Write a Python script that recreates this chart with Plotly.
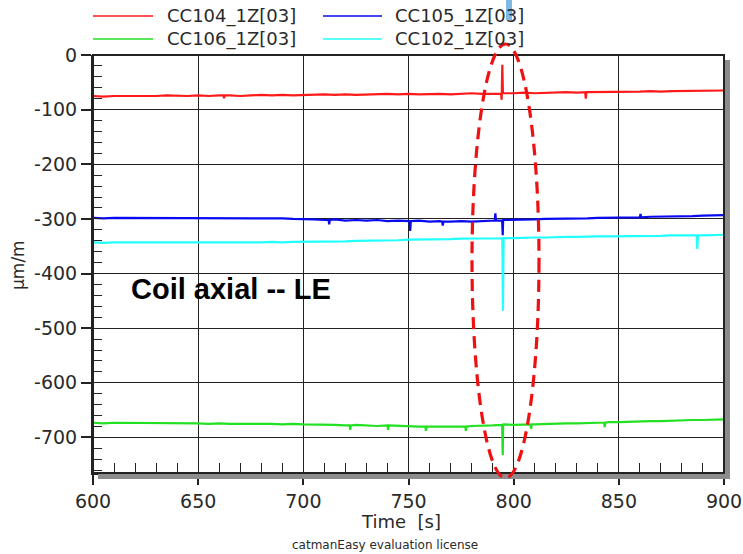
import plotly.graph_objects as go

# ---------------- data ----------------
time_s = list(range(600, 905, 5))

cc104 = [-75, -76, -75, -75, -76, -75, -75, -74, -75, -75, -74, -75, -74, -74, -75, -74, -73, -74, -73, -74,
         -73, -73, -72, -73, -72, -73, -72, -72, -71, -72, -71, -72, -71, -71, -72, -71, -70, -71, -71, -70,
         -70, -69, -70, -69, -69, -68, -69, -68, -68, -67, -68, -67, -67, -66, -67, -66, -66, -65, -66, -65, -65]
cc105 = [-298, -299, -298, -298, -299, -298, -298, -299, -298, -299, -299, -298, -299, -298, -299, -299, -298, -299, -299, -300,
         -300, -301, -302, -301, -303, -302, -303, -302, -304, -303, -304, -303, -305, -304, -305, -304, -305, -304, -303, -302,
         -302, -301, -301, -300, -300, -300, -299, -299, -298, -298, -298, -297, -297, -296, -296, -295, -295, -295, -294, -294, -293]
cc106 = [-673, -674, -673, -673, -674, -673, -674, -674, -673, -674, -674, -675, -674, -675, -675, -674, -675, -675, -676, -675,
         -676, -676, -677, -677, -678, -677, -678, -679, -678, -679, -679, -680, -680, -679, -680, -680, -679, -679, -678, -677,
         -677, -676, -676, -675, -675, -674, -674, -673, -673, -672, -672, -671, -671, -670, -670, -669, -669, -668, -668, -667, -667]
cc102 = [-343, -344, -343, -343, -344, -343, -343, -344, -343, -343, -344, -343, -343, -344, -343, -343, -343, -342, -343, -342,
         -342, -342, -341, -341, -341, -340, -340, -339, -339, -339, -338, -338, -337, -337, -337, -336, -336, -336, -335, -335,
         -335, -334, -334, -334, -333, -333, -333, -332, -332, -332, -332, -331, -331, -331, -331, -330, -330, -330, -330, -329, -329]

# short transients (time, value)
spk_t_104 = [662.0, 662.3, 662.6, 794.0, 794.3, 794.6, 794.9, 834.0, 834.3, 834.6]
spk_v_104 = [-74, -79, -74, -71, -82, -18, -71, -68, -80, -68]
spk_t_105 = [712.0, 712.3, 712.6, 750.5, 750.8, 751.1, 766.0, 766.3, 766.6, 791.0, 791.3, 791.6,
             794.5, 794.8, 795.1, 860.0, 860.3, 860.6]
spk_v_105 = [-302, -310, -302, -304, -322, -304, -305, -312, -305, -303, -290, -303,
             -303, -330, -302, -297, -291, -297]
spk_t_106 = [722.0, 722.3, 722.6, 740.0, 740.3, 740.6, 758.0, 758.3, 758.6, 777.0, 777.3, 777.6,
             794.5, 794.8, 795.1, 808.0, 808.3, 808.6, 843.0, 843.3, 843.6]
spk_v_106 = [-678, -686, -678, -678, -686, -678, -680, -688, -680, -680, -688, -680,
             -677, -732, -676, -676, -684, -676, -673, -681, -673]
spk_t_102 = [794.6, 794.9, 795.2, 887.0, 887.3, 887.6]
spk_v_102 = [-335, -468, -335, -330, -355, -330]

names = ["CC104_1Z[03]", "CC105_1Z[03]", "CC106_1Z[03]", "CC102_1Z[03]"]
colors = ["#ff1a1a", "#0a0af0", "#22e022", "#22ffff"]

x_ticks = [600, 650, 700, 750, 800, 850, 900]
x_tick_text = ["600", "650", "700", "750", "800", "850", "900"]
y_ticks = [0, -100, -200, -300, -400, -500, -600, -700]
y_tick_text = ["0", "-100", "-200", "-300", "-400", "-500", "-600", "-700"]

# ---------------- figure ----------------
W, H = 743, 554
L, R, T, B = 93, 19, 55, 81
pw, ph = W - L - R, H - T - B


def px(x):
    return (x - L) / pw


def py(y):
    return (H - B - y) / ph


def merge(t, v, st, sv):
    pts = sorted(list(zip(t, v)) + list(zip(st, sv)))
    return [p[0] for p in pts], [p[1] for p in pts]


fig = go.Figure()
series = [(cc104, spk_t_104, spk_v_104), (cc105, spk_t_105, spk_v_105),
          (cc106, spk_t_106, spk_v_106), (cc102, spk_t_102, spk_v_102)]
# draw order: green, cyan, blue, red
for idx in [2, 3, 1, 0]:
    vals, st, sv = series[idx]
    xx, yy = merge(time_s, vals, st, sv)
    fig.add_trace(go.Scatter(x=xx, y=yy, mode="lines", name=names[idx],
                             line=dict(color=colors[idx], width=2.2), showlegend=False))

axcol = "#222222"
tickfont = dict(family="DejaVu Sans", size=19, color="#2a2a2a")

fig.update_xaxes(range=[600, 900], tickmode="array", tickvals=x_ticks, ticktext=x_tick_text,
                 ticks="outside", ticklen=10, tickwidth=1.5, automargin=False,
                 tickcolor=axcol, showgrid=True, gridcolor=axcol, gridwidth=1, zeroline=False,
                 showline=True, linecolor=axcol, linewidth=2, mirror=False, tickfont=tickfont,
                 minor=dict(tickmode="linear", tick0=600, dtick=10, ticks="inside", ticklen=10, tickwidth=1.2,
                            tickcolor=axcol, showgrid=False))
fig.update_yaxes(range=[-765, 0], tickmode="array", tickvals=y_ticks, ticktext=y_tick_text,
                 ticks="outside", ticklen=10, tickwidth=1.5, automargin=False,
                 tickcolor=axcol, showgrid=True, gridcolor=axcol, gridwidth=1, zeroline=False,
                 showline=True, linecolor=axcol, linewidth=2, mirror=False, tickfont=tickfont,
                 minor=dict(tickmode="linear", tick0=0, dtick=20, ticks="inside", ticklen=9, tickwidth=1.2,
                            tickcolor=axcol, showgrid=False))

shapes = []
# top/right frame
shapes.append(dict(type="rect", xref="paper", yref="paper", x0=0, x1=1, y0=0, y1=1,
                   line=dict(color=axcol, width=2), fillcolor="rgba(0,0,0,0)"))
# drop shadow of plot frame
shapes.append(dict(type="rect", xref="paper", yref="paper", x0=px(725), x1=px(730), y0=py(479), y1=py(60),
                   fillcolor="#8c8c8c", line=dict(width=0)))
shapes.append(dict(type="rect", xref="paper", yref="paper", x0=px(98), x1=px(730), y0=py(479), y1=py(474),
                   fillcolor="#8c8c8c", line=dict(width=0)))
# dashed ellipse highlight
shapes.append(dict(type="circle", xref="paper", yref="paper", x0=px(472), x1=px(539), y0=py(478), y1=py(44),
                   line=dict(color="#ee1111", width=3.2, dash="12px,7px")))
# small light-blue mark at top
shapes.append(dict(type="rect", xref="paper", yref="paper", x0=px(506), x1=px(512), y0=py(20), y1=py(0),
                   fillcolor="#7db9e3", line=dict(width=0)))

annotations = []
# manual legend
leg = [(0, 93, 153, 165, 16), (1, 323, 382, 393, 16), (2, 93, 153, 165, 39), (3, 323, 382, 393, 39)]
for idx, lx0, lx1, tx, ly in leg:
    shapes.append(dict(type="line", xref="paper", yref="paper", x0=px(lx0), x1=px(lx1), y0=py(ly), y1=py(ly),
                       line=dict(color=colors[idx], width=1.5)))
    annotations.append(dict(xref="paper", yref="paper", x=px(tx), y=py(ly), text=names[idx], showarrow=False,
                            xanchor="left", yanchor="middle", font=dict(family="DejaVu Sans", size=18, color="#2a2a2a")))

annotations.append(dict(xref="paper", yref="paper", x=px(129), y=py(289), text="<b>Coil axial -- LE</b>",
                        showarrow=False, xanchor="left", yanchor="middle",
                        font=dict(family="Liberation Sans, Arial", size=29, color="black")))
annotations.append(dict(xref="paper", yref="paper", x=px(18), y=py(265), text="µm/m", textangle=-90,
                        showarrow=False, xanchor="center", yanchor="middle",
                        font=dict(family="DejaVu Sans", size=17, color="#2a2a2a")))
annotations.append(dict(xref="paper", yref="paper", x=px(401), y=py(521), text="Time\u00a0 [s]",
                        showarrow=False, xanchor="center", yanchor="middle",
                        font=dict(family="DejaVu Sans", size=18, color="#2a2a2a")))
annotations.append(dict(xref="paper", yref="paper", x=px(385), y=py(545), text="catmanEasy evaluation license",
                        showarrow=False, xanchor="center", yanchor="middle",
                        font=dict(family="DejaVu Sans", size=12, color="#2a2a2a")))

fig.update_layout(width=W, height=H, margin=dict(l=L, r=R, t=T, b=B), paper_bgcolor="white",
                  plot_bgcolor="white", showlegend=False, shapes=shapes, annotations=annotations)

fig.write_html("out.html", config={"displayModeBar": False},
               post_script="document.body.style.margin='0';document.body.style.overflow='hidden';")
